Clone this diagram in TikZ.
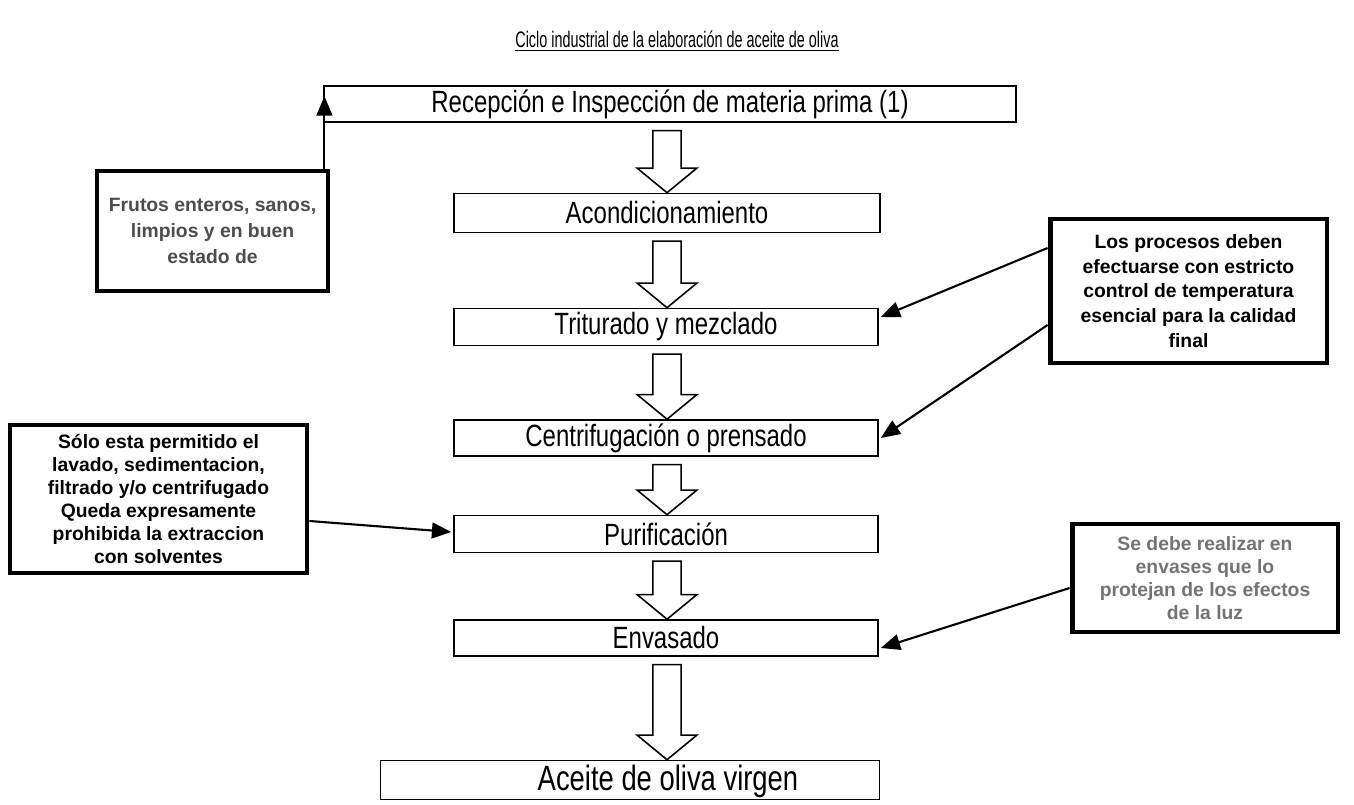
\documentclass[tikz,border=0pt]{standalone}
\usepackage{fontspec}
\setmainfont{Liberation Sans}
\newfontfamily\narrowfont{Liberation Sans}[FakeStretch=0.78]
\newfontfamily\titlefont{Liberation Sans}[FakeStretch=0.64]
\usetikzlibrary{arrows.meta,calc}

\tikzset{
  stage/.style={draw, line width=0.9pt, rectangle, inner sep=0pt,
    font=\narrowfont\fontsize{17.5}{20}\selectfont},
  note/.style={draw, line width=2.8pt, rectangle, inner sep=0pt, align=center,
    font=\bfseries\fontsize{11}{14}\selectfont},
  conn/.style={line width=1.2pt, -{Triangle[length=11pt,width=9pt]}},
  blk/.style={line width=0.9pt, fill=white},
}

% hollow block arrow from the bottom of one stage to the top of the next
\newcommand\stagearrow[2]{%
  \draw[blk] let \p1=(#1.south -| ax), \p2=(#2.north -| ax) in
    (\x1-8pt,\y1-4.5pt) -- (\x1+8pt,\y1-4.5pt) -- (\x1+8pt,\y2+14pt)
    -- (\x1+17pt,\y2+14pt) -- (\x1,\y2) -- (\x1-17pt,\y2+14pt)
    -- (\x1-8pt,\y2+14pt) -- cycle;}

\begin{document}
\begin{tikzpicture}[x=0.02cm, y=-0.02cm]
\useasboundingbox (0,0) rectangle (1354,804);

\node[font=\titlefont\fontsize{12.8}{15}\selectfont] (title) at (677,41)
  {\underline{Ciclo industrial de la elaboración de aceite de oliva}};

\coordinate (ax) at (667,0);

% process stages
\node[stage, minimum width=13.84cm, minimum height=0.72cm] (r1) at (670,104)
  {Recepción e Inspección de materia prima (1)};
\node[stage, minimum width=8.52cm, minimum height=0.78cm] (r2) at (667,213)
  {Acondicionamiento};
\node[stage, minimum width=8.48cm, minimum height=0.74cm] (r3) at (666,327)
  {Triturado y mezclado};
\node[stage, minimum width=8.48cm, minimum height=0.72cm] (r4) at (666,438)
  {Centrifugación o prensado};
\node[stage, minimum width=8.48cm, minimum height=0.74cm] (r5) at (666,534)
  {Purificación};
\node[stage, minimum width=8.48cm, minimum height=0.72cm] (r6) at (666,638)
  {Envasado};
\node[stage, minimum width=9.98cm, minimum height=0.78cm] (r7) at (630,780) {};
\node[font=\narrowfont\fontsize{20}{24}\selectfont] (t7) at (668,781)
  {Aceite de oliva virgen};

\stagearrow{r1}{r2}
\stagearrow{r2}{r3}
\stagearrow{r3}{r4}
\stagearrow{r4}{r5}
\stagearrow{r5}{r6}
\stagearrow{r6}{r7}

% side notes
\node[note, minimum width=4.62cm, minimum height=2.4cm, text=black!70,
      font=\bfseries\fontsize{11}{15}\selectfont] (n1) at (212.5,231)
  {Frutos enteros, sanos,\\limpios y en buen\\estado de};
\node[note, minimum width=5.54cm, minimum height=2.88cm] (n2) at (1188.5,291)
  {Los procesos deben\\efectuarse con estricto\\control de temperatura\\esencial para la calidad\\final};
\node[note, minimum width=5.94cm, minimum height=2.96cm,
      font=\bfseries\fontsize{11}{13}\selectfont] (n3) at (158.5,499)
  {Sólo esta permitido el\\lavado, sedimentacion,\\filtrado y/o centrifugado\\Queda expresamente\\prohibida la extraccion\\con solventes};
\node[note, minimum width=5.32cm, minimum height=2.16cm, text=black!55,
      font=\bfseries\fontsize{11}{13}\selectfont] (n4) at (1205,578)
  {Se debe realizar en\\envases que lo\\protejan de los efectos\\de la luz};

% connectors from the notes to the stages
\coordinate (p1) at ($(n1.north east)+(-6,0)$);
\coordinate (q1) at ($(r1.north west)+(0,11)$);
\draw[conn] (p1) -- (p1 |- q1);
\draw[conn] ($(n2.west)+(0,-43)$) -- ($(r3.east)+(2,-10)$);
\draw[conn] ($(n2.west)+(0,34)$) -- ($(r4.east)+(2,0)$);
\draw[conn] ($(n3.east)+(0,22)$) -- ($(r5.west)+(-2,-2)$);
\draw[conn] ($(n4.west)+(0,10)$) -- ($(r6.east)+(2,10)$);
\end{tikzpicture}
\end{document}
